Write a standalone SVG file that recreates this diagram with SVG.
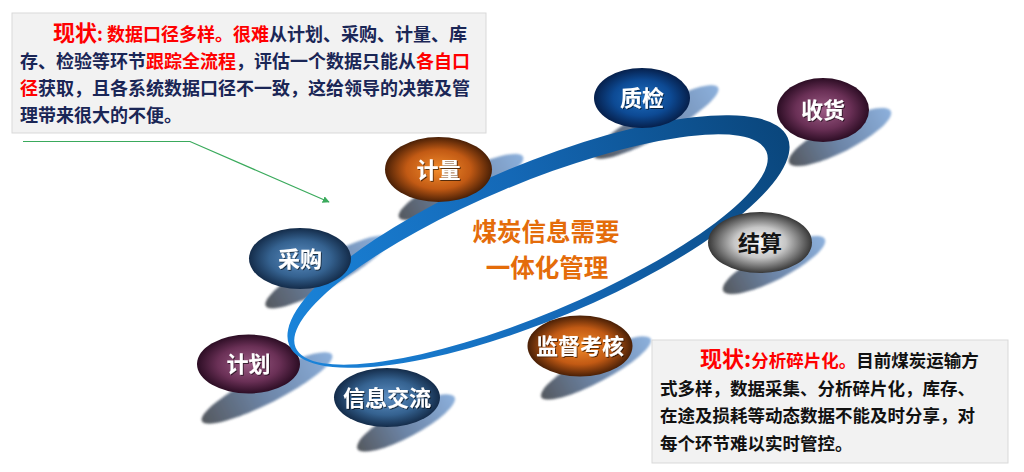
<svg xmlns="http://www.w3.org/2000/svg" width="1024" height="472" viewBox="0 0 1024 472">
<defs>
<style>
.node-text{font-family:"Noto Sans CJK SC","Noto Sans",sans-serif;font-weight:bold;font-size:22px;fill:#ffffff;text-anchor:middle;}
.node-text.dark{fill:#151515;}
.note{font-family:"Noto Sans CJK SC","Noto Sans",sans-serif;font-weight:bold;}
.red{fill:#ff0000;}
.navy{fill:#1a2656;}
.blk{fill:#111111;}
.box{fill:#f2f2f2;stroke:#d9d9d9;stroke-width:1;}
.center-text{font-family:"Noto Sans CJK SC","Noto Sans",sans-serif;font-weight:bold;font-size:24.5px;fill:#e46c0a;text-anchor:middle;}
.shadow{fill:url(#gShadow);filter:url(#blur);}
</style>
<linearGradient id="gShadow" x1="0" y1="0" x2="1" y2="0">
<stop offset="0" stop-color="#55595f"/>
<stop offset="0.45" stop-color="#6c84a6"/>
<stop offset="1" stop-color="#8cb0dc"/>
</linearGradient>
<linearGradient id="gRing" x1="0" y1="0" x2="1" y2="0">
<stop offset="0" stop-color="#1a84da"/>
<stop offset="0.5" stop-color="#1468b6"/>
<stop offset="1" stop-color="#0a467c"/>
</linearGradient>
<radialGradient id="gNavy" cx="0.5" cy="0.5" r="0.5">
<stop offset="0" stop-color="#1f70c2"/>
<stop offset="0.6" stop-color="#0d4a94"/>
<stop offset="1" stop-color="#06204c"/>
</radialGradient>
<radialGradient id="gSteel" cx="0.5" cy="0.5" r="0.5">
<stop offset="0" stop-color="#5c8ec2"/>
<stop offset="0.6" stop-color="#356290"/>
<stop offset="1" stop-color="#142c4a"/>
</radialGradient>
<radialGradient id="gMaroon" cx="0.5" cy="0.5" r="0.5">
<stop offset="0" stop-color="#9c5c85"/>
<stop offset="0.6" stop-color="#6a3056"/>
<stop offset="1" stop-color="#2c0d24"/>
</radialGradient>
<radialGradient id="gOrange" cx="0.5" cy="0.5" r="0.5">
<stop offset="0" stop-color="#f28c2c"/>
<stop offset="0.6" stop-color="#c25a14"/>
<stop offset="1" stop-color="#4a2006"/>
</radialGradient>
<radialGradient id="gGray" cx="0.5" cy="0.5" r="0.5">
<stop offset="0" stop-color="#ffffff"/>
<stop offset="0.5" stop-color="#c6c6c6"/>
<stop offset="1" stop-color="#383838"/>
</radialGradient>
<filter id="blur" x="-20%" y="-50%" width="140%" height="200%">
<feGaussianBlur stdDeviation="1"/>
</filter>
<filter id="tshadow" x="-20%" y="-30%" width="140%" height="160%">
<feDropShadow dx="1" dy="1" stdDeviation="0.6" flood-color="#000000" flood-opacity="0.6"/>
</filter>
<marker id="arrow" viewBox="0 0 10 10" refX="9" refY="5" markerWidth="7" markerHeight="7" orient="auto" markerUnits="userSpaceOnUse">
<path d="M0,0 L10,5 L0,10 Z" fill="#3aaa5c"/>
</marker>
</defs>

<rect x="0" y="0" width="1024" height="472" fill="#ffffff"/>

<g id="shadows">
<ellipse class="shadow" cx="656" cy="122" rx="71" ry="15" transform="rotate(-29 656 122)"/>
<ellipse class="shadow" cx="840" cy="137" rx="57" ry="15" transform="rotate(-27 840 137)"/>
<ellipse class="shadow" cx="461" cy="187" rx="69" ry="15" transform="rotate(-26 461 187)"/>
<ellipse class="shadow" cx="327" cy="272" rx="70" ry="15" transform="rotate(-29 327 272)"/>
<ellipse class="shadow" cx="774" cy="265" rx="57" ry="15" transform="rotate(-27 774 265)"/>
<ellipse class="shadow" cx="596" cy="368" rx="62" ry="14" transform="rotate(-28 596 368)"/>
<ellipse class="shadow" cx="267" cy="388" rx="73" ry="15" transform="rotate(-27 267 388)"/>
<ellipse class="shadow" cx="406" cy="423" rx="55" ry="14" transform="rotate(-28 406 423)"/>
</g>

<g id="node-jihua">
<ellipse cx="248.5" cy="364" rx="51.5" ry="29.5" fill="url(#gMaroon)"/>
<text class="node-text" x="248.5" y="372" filter="url(#tshadow)">计划</text>
</g>

<g id="ring" transform="rotate(-22.6 538.5 241.5)">
<path fill="url(#gRing)" fill-rule="evenodd" d="M268.5,241.5 A270,78 0 1 0 808.5,241.5 A270,78 0 1 0 268.5,241.5 Z M273.5,246 A255,65.5 0 1 0 783.5,246 A255,65.5 0 1 0 273.5,246 Z"/>
</g>

<g id="node-zhijian">
<ellipse cx="642" cy="98" rx="48" ry="30" fill="url(#gNavy)"/>
<text class="node-text" x="642" y="106" filter="url(#tshadow)">质检</text>
</g>
<g id="node-shouhuo">
<ellipse cx="823" cy="110" rx="46" ry="32" fill="url(#gMaroon)"/>
<text class="node-text" x="823" y="118" filter="url(#tshadow)">收货</text>
</g>
<g id="node-jiliang">
<ellipse cx="438.5" cy="169.5" rx="53.5" ry="32.5" fill="url(#gOrange)"/>
<text class="node-text" x="438.5" y="177.5" filter="url(#tshadow)">计量</text>
</g>
<g id="node-caigou">
<ellipse cx="300" cy="258.5" rx="51" ry="30.5" fill="url(#gSteel)"/>
<text class="node-text" x="300" y="266.5" filter="url(#tshadow)">采购</text>
</g>
<g id="node-jiesuan">
<ellipse cx="760" cy="242.5" rx="52" ry="30.5" fill="url(#gGray)"/>
<text class="node-text dark" x="760" y="250.5">结算</text>
</g>
<g id="node-jiandu">
<ellipse cx="580" cy="346" rx="52.5" ry="30.5" fill="url(#gOrange)"/>
<text class="node-text" x="580" y="354" filter="url(#tshadow)">监督考核</text>
</g>
<g id="node-xinxi">
<ellipse cx="387" cy="397.5" rx="53" ry="29.5" fill="url(#gSteel)"/>
<text class="node-text" x="387" y="405.5" filter="url(#tshadow)">信息交流</text>
</g>

<g id="center-label">
<text class="center-text" x="546" y="241">煤炭信息需要</text>
<text class="center-text" x="547" y="277">一体化管理</text>
</g>

<g id="note-top">
<rect class="box" x="12" y="13" width="474" height="120"/>
<text class="note" font-size="18" x="53" y="41"><tspan class="red" font-size="22">现状</tspan><tspan class="red">: 数据口径多样。很难</tspan><tspan class="navy">从计划、采购、计量、库</tspan></text>
<text class="note" font-size="18" x="20" y="68"><tspan class="navy">存、检验等环节</tspan><tspan class="red">跟踪全流程</tspan><tspan class="navy">，评估一个数据只能从</tspan><tspan class="red">各自口</tspan></text>
<text class="note" font-size="18" x="20" y="95"><tspan class="red">径</tspan><tspan class="navy">获取，且各系统数据口径不一致，这给领导的决策及管</tspan></text>
<text class="note navy" font-size="18" x="20" y="122">理带来很大的不便。</text>
</g>

<g id="note-bottom">
<rect class="box" x="652" y="340" width="356" height="123"/>
<text class="note" font-size="17.5" x="700" y="367"><tspan class="red" font-size="22">现状:</tspan><tspan class="red">分析碎片化。</tspan><tspan class="blk">目前煤炭运输方</tspan></text>
<text class="note blk" font-size="17.5" x="660" y="395">式多样，数据采集、分析碎片化，库存、</text>
<text class="note blk" font-size="17.5" x="660" y="422">在途及损耗等动态数据不能及时分享，对</text>
<text class="note blk" font-size="17.5" x="660" y="450">每个环节难以实时管控。</text>
</g>

<g id="connectors">
<polyline points="23,141.5 190,141.5 329,202" fill="none" stroke="#3aaa5c" stroke-width="1.2" marker-end="url(#arrow)"/>
</g>
</svg>
